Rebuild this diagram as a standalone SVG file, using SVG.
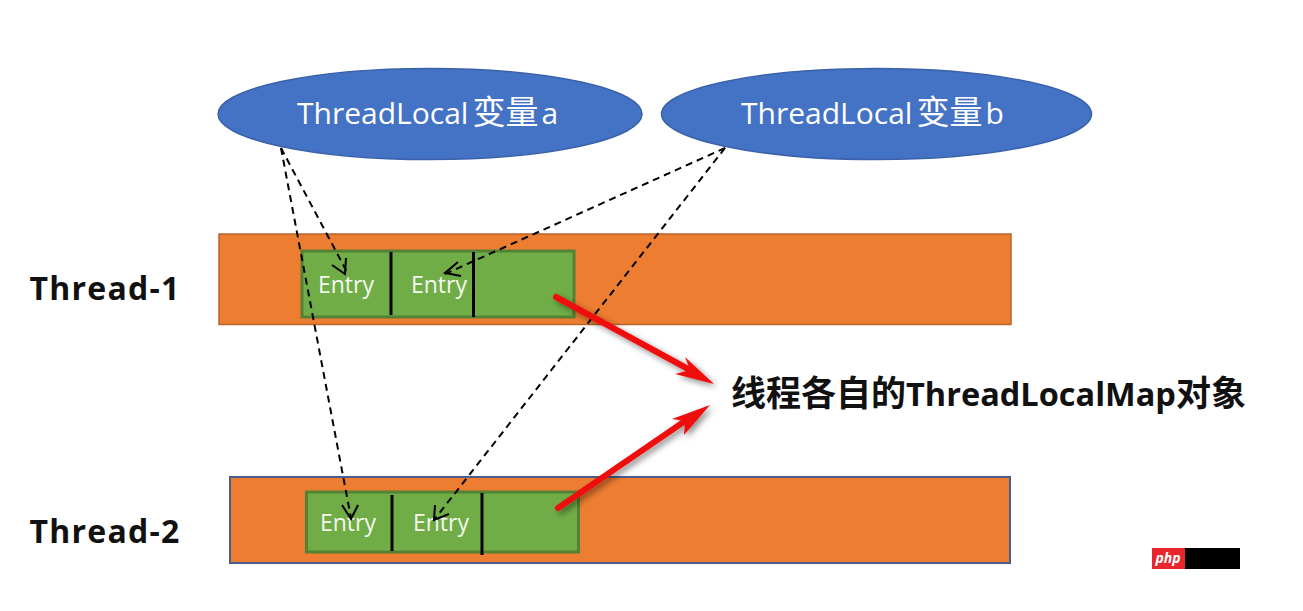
<svg xmlns="http://www.w3.org/2000/svg" width="1303" height="611" viewBox="0 0 1303 611">
<style>
.ell{fill:#4472c4;stroke:#3a62aa;stroke-width:1.5}
.ellt{font-family:"Open Sans","Noto Sans CJK SC",sans-serif;font-size:30px;fill:#fff}
.cjk{font-size:33px}
.bar{fill:#ed7d31}
.map{fill:#70ad47;stroke:#548235;stroke-width:3}
.div{stroke:#000;stroke-width:3}
.ent{font-family:"Open Sans",sans-serif;font-size:23px;fill:#f4f8ef;text-anchor:middle}
.th{font-family:"Open Sans",sans-serif;font-weight:700;font-size:32px;letter-spacing:1.200px;fill:#111;text-anchor:middle}
.lab{font-family:"Open Sans","Noto Sans CJK SC",sans-serif;font-weight:700;fill:#111}
.dash{fill:none;stroke:#000;stroke-width:2;stroke-dasharray:7 5}
.head{fill:none;stroke:#000;stroke-width:2}
.red{stroke:#f01010;stroke-width:6;stroke-linecap:round;fill:none}
.redh{fill:#f01010}
</style>
<defs>
<filter id="sh" x="-20%" y="-20%" width="140%" height="140%"><feDropShadow dx="3" dy="3" stdDeviation="3" flood-color="#000" flood-opacity="0.45"/></filter>
</defs>
<rect width="1303" height="611" fill="#fff"/>
<g id="var-a"><ellipse class="ell" cx="430" cy="114" rx="212" ry="45.500"/><text class="ellt" x="297" y="124">ThreadLocal<tspan class="cjk" dx="4">变量</tspan><tspan dx="3">a</tspan></text></g>
<g id="var-b"><ellipse class="ell" cx="876.500" cy="114" rx="215" ry="45.500"/><text class="ellt" x="741" y="124">ThreadLocal<tspan class="cjk" dx="4">变量</tspan><tspan dx="3">b</tspan></text></g>
<g id="thread-1">
<rect class="bar" x="219" y="234" width="792" height="90.500" stroke="#b8642c" stroke-width="1.500"/>
<rect class="map" x="302" y="251" width="272" height="66"/>
<line class="div" x1="391" y1="252" x2="391" y2="315"/>
<line class="div" x1="473.500" y1="252" x2="473.500" y2="317"/>
<text class="ent" x="346" y="293">Entry</text>
<text class="ent" x="439" y="293">Entry</text>
<text class="th" x="105" y="300">Thread-1</text>
</g>
<g id="thread-2">
<rect class="bar" x="230" y="477" width="780" height="86" stroke="#4e5c8c" stroke-width="2"/>
<rect class="map" x="306.500" y="492" width="272" height="60"/>
<line class="div" x1="392" y1="495" x2="392" y2="551"/>
<line class="div" x1="482" y1="493" x2="482" y2="555"/>
<text class="ent" x="348" y="531">Entry</text>
<text class="ent" x="441" y="531">Entry</text>
<text class="th" x="105" y="543">Thread-2</text>
</g>
<g id="map-label"><text class="lab" x="731" y="406" font-size="35">线程各自的<tspan font-size="32.500">ThreadLocalMap</tspan>对象</text></g>
<g id="watermark">
<rect x="1152" y="548" width="34" height="21" fill="#e8262c"/>
<rect x="1185" y="548" width="55" height="21" fill="#000"/>
<text x="1168" y="563" font-family="'Open Sans',sans-serif" font-style="italic" font-weight="700" font-size="14" fill="#fff" text-anchor="middle">php</text>
</g>
<g id="connectors">
<path class="dash" d="M281 148L347 272"/>
<path class="head" d="M332 265L345 274L346 258"/>
<path class="dash" d="M281 148L351 518"/>
<path class="head" d="M342 505L351 519L358 505"/>
<path class="dash" d="M725 148L445 274"/>
<path class="head" d="M458 262L445 273L461 276"/>
<path class="dash" d="M725 148L434 520"/>
<path class="head" d="M435 505L434 520L449 514"/>
<g filter="url(#sh)">
<path class="red" d="M556 297L690 370"/>
<polygon class="redh" points="714,384 675,374 690,370 685,357"/>
</g>
<g filter="url(#sh)">
<path class="red" d="M558 508L685 421"/>
<polygon class="redh" points="710,405 684,435 685,421 672,419"/>
</g>
</g>
</svg>
